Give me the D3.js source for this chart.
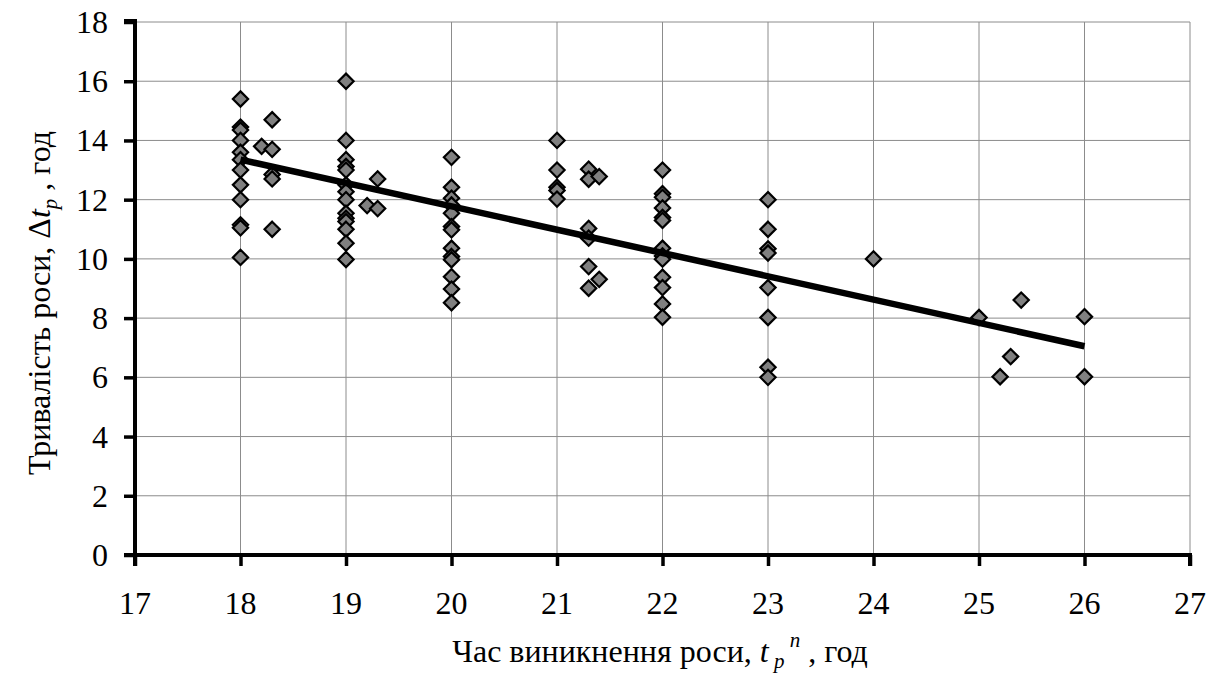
<!DOCTYPE html>
<html><head><meta charset="utf-8">
<script src="https://cdn.jsdelivr.net/npm/d3@7"></script>
<style>body{margin:0;background:#fff}svg{display:block}</style>
</head><body><svg id="c" width="1221" height="673" font-family="Liberation Serif"></svg>
<script>
const xTicks=[17,18,19,20,21,22,23,24,25,26,27];
const yTicks=[0,2,4,6,8,10,12,14,16,18];
const pointsX=[
18,18,18,18,18,18,18,18,18,18,18,18,
18.2,18.3,18.3,18.3,18.3,18.3,
19,19,19,19,19,19,19,19,19,19,19,19,19,19,
19.2,19.3,19.3,
20,20,20,20,20,20,20,20,20,20,20,20,20,
21,21,21,21,21,
21.3,21.3,21.4,21.3,21.3,21.3,21.3,21.4,
22,22,22,22,22,22,22,22,22,22,22,22,22,
23,23,23,23,23,23,23,23,
24,25,25.4,25.3,25.2,26,26];
const pointsY=[
15.4,14.45,14.35,14.0,13.6,13.35,13.0,12.5,12.0,11.15,11.05,10.05,
13.8,14.7,13.7,12.85,12.7,11.0,
16.0,14.0,13.35,13.12,13.0,12.5,12.27,12.0,11.54,11.37,11.26,11.0,10.53,9.98,
11.8,12.7,11.7,
13.43,12.42,12.05,11.82,11.54,11.09,10.98,10.36,10.08,9.97,9.4,8.98,8.52,
14.0,13.0,12.42,12.31,12.02,
13.03,12.69,12.78,11.03,10.7,9.74,9.01,9.31,
13.0,12.2,12.08,11.72,11.4,11.3,10.36,10.1,9.99,9.38,9.03,8.48,8.03,
12.0,11.0,10.34,10.2,9.03,8.02,6.34,6.0,
10.0,8.02,8.61,6.7,6.02,8.05,6.02];
const trendX=[18,26];
const trendY=[13.35,7.05];

const FONT="Liberation Serif";
const FS=32, SUB=21;

const svg=d3.select("#c");
const L=135,R=1190,T=22,B=555;
const x=d3.scaleLinear().domain([17,27]).range([L,R]);
const y=d3.scaleLinear().domain([0,18]).range([B,T]);

// grid
svg.append("g").selectAll("line").data(yTicks.filter(d=>d>0)).join("line")
 .attr("x1",L).attr("x2",R).attr("y1",d=>y(d)).attr("y2",d=>y(d))
 .attr("stroke","#8c8c8c").attr("stroke-width",1);
svg.append("g").selectAll("line").data(xTicks.filter(d=>d>17)).join("line")
 .attr("y1",T).attr("y2",B).attr("x1",d=>x(d)).attr("x2",d=>x(d))
 .attr("stroke","#8c8c8c").attr("stroke-width",1);

// axes (drawn manually so the labels are plain text elements)
const xa=svg.append("g").attr("transform",`translate(0,${B})`)
 .call(d3.axisBottom(x).tickValues(xTicks).tickSize(11).tickFormat(""));
const ya=svg.append("g").attr("transform",`translate(${L},0)`)
 .call(d3.axisLeft(y).tickValues(yTicks).tickSize(11).tickFormat(""));
[xa,ya].forEach(a=>{
 a.attr("font-family",null).attr("font-size",null);
 a.select(".domain").attr("stroke","#000").attr("stroke-width",4);
 a.selectAll(".tick line").attr("stroke","#000").attr("stroke-width",3.5);
 a.selectAll(".tick text").remove();
});
ya.select(".domain").attr("d",`M-11,${B}H0V${T-1}H-11`);
xa.select(".domain").attr("d",`M${L},11V0H${R}V11`);

svg.append("g").selectAll("text").data(xTicks).join("text")
 .attr("x",d=>x(d)).attr("y",B+59).attr("text-anchor","middle")
 .attr("font-family",FONT).attr("font-size",FS).text(d=>d);
svg.append("g").selectAll("text").data(yTicks).join("text")
 .attr("x",L-27).attr("y",d=>y(d)+11).attr("text-anchor","end")
 .attr("font-family",FONT).attr("font-size",FS).text(d=>d);

// points
const dia=d3.symbol().type(d3.symbolDiamond2).size(2*8.6*8.6);
const pts=pointsX.map((v,i)=>[v,pointsY[i]]);
svg.append("g").selectAll("path").data(pts).join("path")
 .attr("d",dia).attr("transform",d=>`translate(${x(d[0])},${y(d[1])})`)
 .attr("fill","#808080").attr("stroke","#000").attr("stroke-width",2.2);

// trend
svg.append("path").datum(trendX.map((v,i)=>[v,trendY[i]]))
 .attr("d",d3.line().x(d=>x(d[0])).y(d=>y(d[1])))
 .attr("stroke","#000").attr("stroke-width",6.5).attr("fill","none");

// titles
const xt=svg.append("text").attr("x",660).attr("y",662).attr("text-anchor","middle")
 .attr("font-family",FONT).attr("font-size",FS);
xt.append("tspan").text("Час виникнення роси, ");
xt.append("tspan").attr("font-style","italic").text("t");
xt.append("tspan").attr("font-style","italic").attr("font-size",SUB).attr("dy",6).text(" p");
xt.append("tspan").attr("font-style","italic").attr("font-size",SUB).attr("dy",-21).text("  n");
xt.append("tspan").attr("dy",15).text(" , год");

const yt=svg.append("text").attr("transform","translate(50,303) rotate(-90)").attr("text-anchor","middle")
 .attr("font-family",FONT).attr("font-size",FS);
yt.append("tspan").text("Тривалість роси, Δ");
yt.append("tspan").attr("font-style","italic").text("t");
yt.append("tspan").attr("font-style","italic").attr("font-size",SUB).attr("dy",7).text("p");
yt.append("tspan").attr("dy",-7).text(" , год");
</script></body></html>
